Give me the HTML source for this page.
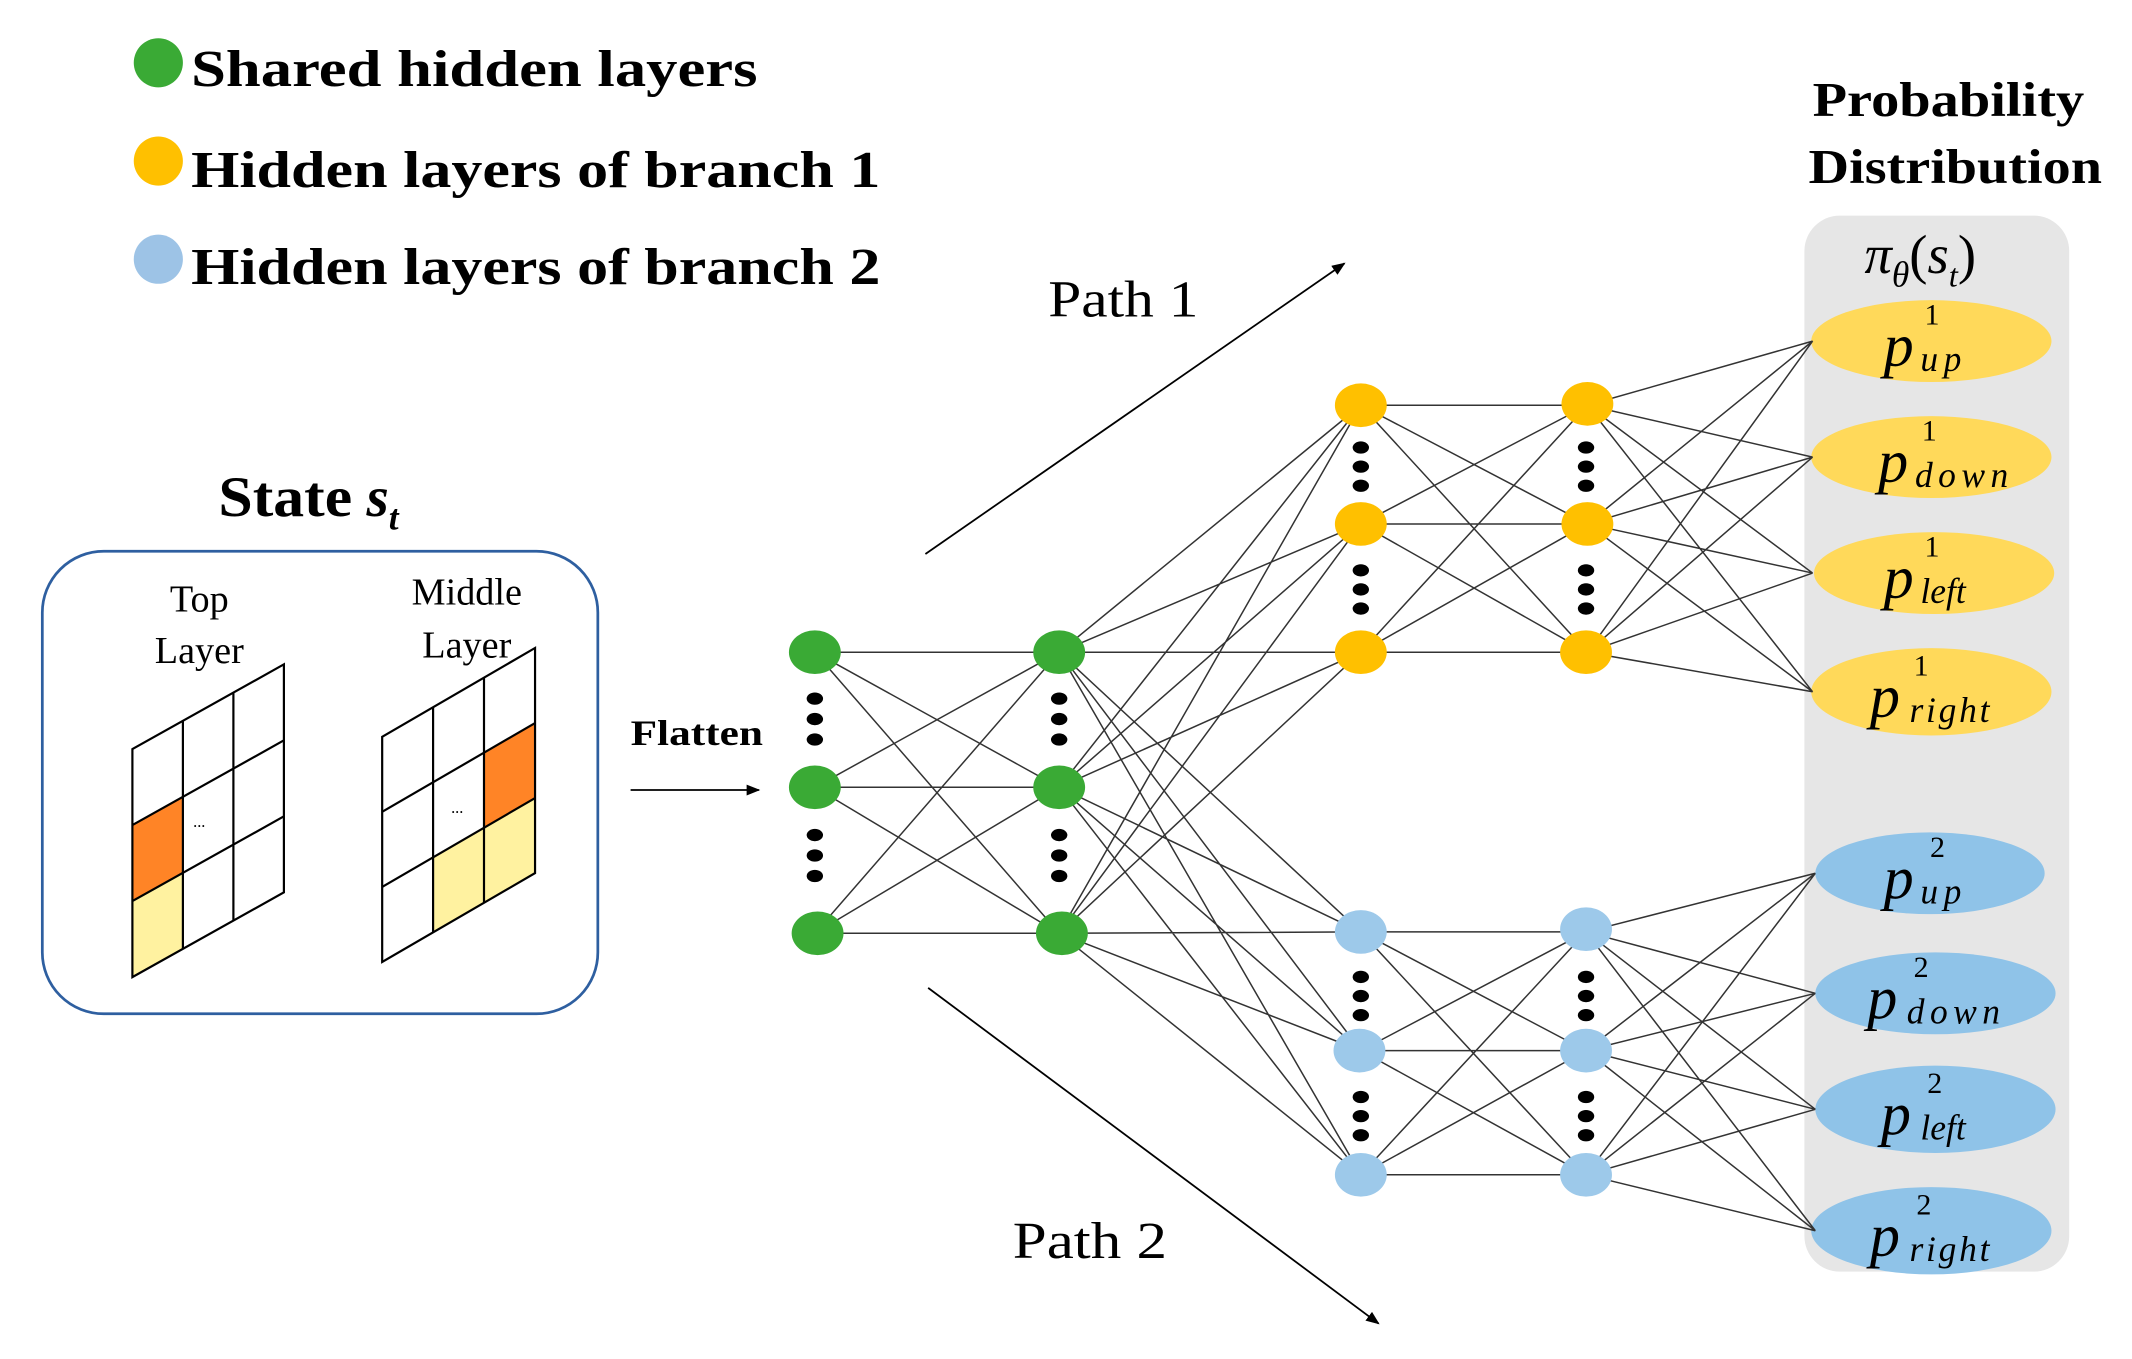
<!DOCTYPE html>
<html><head><meta charset="utf-8"><style>
html,body{margin:0;padding:0;background:#fff;}
svg{display:block;}
text{font-family:"Liberation Serif","Times New Roman",serif;}
</style></head><body>
<svg width="2132" height="1359" viewBox="0 0 1562 996" preserveAspectRatio="none" xmlns="http://www.w3.org/2000/svg" font-family="Liberation Serif, Times New Roman, serif">
<defs>
<marker id="ah" markerWidth="10" markerHeight="8" refX="9" refY="4" orient="auto" markerUnits="userSpaceOnUse">
<path d="M0,0 L10,4 L0,8 z" fill="#000"/></marker>
</defs>
<!-- legend -->
<circle cx="116" cy="46" r="18" fill="#3aaa35"/>
<circle cx="116" cy="118" r="18" fill="#ffc000"/>
<circle cx="116" cy="190" r="18" fill="#9dc3e6"/>
<text x="140" y="63" font-size="38" font-weight="bold" textLength="415" lengthAdjust="spacingAndGlyphs">Shared hidden layers</text>
<text x="140" y="137" font-size="38" font-weight="bold" textLength="505" lengthAdjust="spacingAndGlyphs">Hidden layers of branch 1</text>
<text x="140" y="208" font-size="38" font-weight="bold" textLength="505" lengthAdjust="spacingAndGlyphs">Hidden layers of branch 2</text>

<!-- prob panel -->
<text x="1328" y="85" font-size="36" font-weight="bold" textLength="199" lengthAdjust="spacingAndGlyphs">Probability</text>
<text x="1325" y="134" font-size="36" font-weight="bold" textLength="215" lengthAdjust="spacingAndGlyphs">Distribution</text>
<rect x="1322" y="158" width="194" height="774" rx="26" fill="#e6e6e6"/>
<text x="1366" y="200" font-size="40" font-style="italic">π<tspan font-size="26" dy="10">θ</tspan><tspan font-style="normal" dy="-10">(</tspan>s<tspan font-size="24" dy="10">t</tspan><tspan font-style="normal" dy="-10">)</tspan></text>

<g fill="#ffd95a">
<ellipse cx="1415" cy="250" rx="88" ry="30"/>
<ellipse cx="1415" cy="335" rx="88" ry="30"/>
<ellipse cx="1417" cy="420" rx="88" ry="30"/>
<ellipse cx="1415" cy="507" rx="88" ry="32"/>
</g>
<g fill="#8fc3e8">
<ellipse cx="1414" cy="640" rx="84" ry="30"/>
<ellipse cx="1418" cy="728" rx="88" ry="30"/>
<ellipse cx="1418" cy="813" rx="88" ry="32"/>
<ellipse cx="1415" cy="902" rx="88" ry="32"/>
</g>
<g font-size="44" font-style="italic">
<text x="1380" y="268">p<tspan font-size="22" font-style="normal" dx="8" dy="-30">1</tspan><tspan font-size="26" dx="-14" dy="34" letter-spacing="4">up</tspan></text>
<text x="1376" y="353">p<tspan font-size="22" font-style="normal" dx="10" dy="-30">1</tspan><tspan font-size="26" dx="-16" dy="34" letter-spacing="4">down</tspan></text>
<text x="1380" y="438">p<tspan font-size="22" font-style="normal" dx="8" dy="-30">1</tspan><tspan font-size="26" dx="-14" dy="34">left</tspan></text>
<text x="1370" y="525">p<tspan font-size="22" font-style="normal" dx="10" dy="-30">1</tspan><tspan font-size="26" dx="-14" dy="34" letter-spacing="2">right</tspan></text>
<text x="1380" y="658">p<tspan font-size="22" font-style="normal" dx="12" dy="-30">2</tspan><tspan font-size="26" dx="-18" dy="34" letter-spacing="4">up</tspan></text>
<text x="1368" y="746">p<tspan font-size="22" font-style="normal" dx="12" dy="-30">2</tspan><tspan font-size="26" dx="-16" dy="34" letter-spacing="4">down</tspan></text>
<text x="1378" y="831">p<tspan font-size="22" font-style="normal" dx="12" dy="-30">2</tspan><tspan font-size="26" dx="-16" dy="34">left</tspan></text>
<text x="1370" y="920">p<tspan font-size="22" font-style="normal" dx="12" dy="-30">2</tspan><tspan font-size="26" dx="-16" dy="34" letter-spacing="2">right</tspan></text>
</g>

<!-- connections -->
<g stroke="#333" stroke-width="1.1" fill="none">
<path d="M597 478L776 478M597 478L776 577M597 478L776 684M597 577L776 478M597 577L776 577M597 577L776 684M597 684L776 478M597 684L776 577M597 684L776 684"/>
<path d="M776 478L997 297M776 478L997 384M776 478L997 478M776 478L997 683M776 478L997 770M776 478L997 861
M776 577L997 297M776 577L997 384M776 577L997 478M776 577L997 683M776 577L997 770M776 577L997 861
M776 684L997 297M776 684L997 384M776 684L997 478M776 684L997 683M776 684L997 770M776 684L997 861"/>
<path d="M997 297L1163 297M997 297L1163 384M997 297L1163 478M997 384L1163 297M997 384L1163 384M997 384L1163 478M997 478L1163 297M997 478L1163 384M997 478L1163 478"/>
<path d="M997 683L1162 683M997 683L1162 770M997 683L1162 861M997 770L1162 683M997 770L1162 770M997 770L1162 861M997 861L1162 683M997 861L1162 770M997 861L1162 861"/>
<path d="M1163 297L1328 250M1163 297L1328 335M1163 297L1328 420M1163 297L1328 507
M1163 384L1328 250M1163 384L1328 335M1163 384L1328 420M1163 384L1328 507
M1163 478L1328 250M1163 478L1328 335M1163 478L1328 420M1163 478L1328 507"/>
<path d="M1162 683L1330 640M1162 683L1330 728M1162 683L1330 813M1162 683L1330 902
M1162 770L1330 640M1162 770L1330 728M1162 770L1330 813M1162 770L1330 902
M1162 861L1330 640M1162 861L1330 728M1162 861L1330 813M1162 861L1330 902"/>
</g>

<!-- nodes -->
<g fill="#3aaa35">
<ellipse cx="597" cy="478" rx="19" ry="16"/><ellipse cx="597" cy="577" rx="19" ry="16"/><ellipse cx="599" cy="684" rx="19" ry="16"/>
<ellipse cx="776" cy="478" rx="19" ry="16"/><ellipse cx="776" cy="577" rx="19" ry="16"/><ellipse cx="778" cy="684" rx="19" ry="16"/>
</g>
<g fill="#ffc000">
<ellipse cx="997" cy="297" rx="19" ry="16"/><ellipse cx="997" cy="384" rx="19" ry="16"/><ellipse cx="997" cy="478" rx="19" ry="16"/>
<ellipse cx="1163" cy="296" rx="19" ry="16"/><ellipse cx="1163" cy="384" rx="19" ry="16"/><ellipse cx="1162" cy="478" rx="19" ry="16"/>
</g>
<g fill="#9dc9ea">
<ellipse cx="997" cy="683" rx="19" ry="16"/><ellipse cx="996" cy="770" rx="19" ry="16"/><ellipse cx="997" cy="861" rx="19" ry="16"/>
<ellipse cx="1162" cy="681" rx="19" ry="16"/><ellipse cx="1162" cy="770" rx="19" ry="16"/><ellipse cx="1162" cy="861" rx="19" ry="16"/>
</g>
<!-- dots -->
<g fill="#000">
<ellipse cx="597" cy="512" rx="6" ry="4.5"/><ellipse cx="597" cy="527" rx="6" ry="4.5"/><ellipse cx="597" cy="542" rx="6" ry="4.5"/>
<ellipse cx="597" cy="612" rx="6" ry="4.5"/><ellipse cx="597" cy="627" rx="6" ry="4.5"/><ellipse cx="597" cy="642" rx="6" ry="4.5"/>
<ellipse cx="776" cy="512" rx="6" ry="4.5"/><ellipse cx="776" cy="527" rx="6" ry="4.5"/><ellipse cx="776" cy="542" rx="6" ry="4.5"/>
<ellipse cx="776" cy="612" rx="6" ry="4.5"/><ellipse cx="776" cy="627" rx="6" ry="4.5"/><ellipse cx="776" cy="642" rx="6" ry="4.5"/>
<ellipse cx="997" cy="328" rx="6" ry="4.5"/><ellipse cx="997" cy="342" rx="6" ry="4.5"/><ellipse cx="997" cy="356" rx="6" ry="4.5"/>
<ellipse cx="997" cy="418" rx="6" ry="4.5"/><ellipse cx="997" cy="432" rx="6" ry="4.5"/><ellipse cx="997" cy="446" rx="6" ry="4.5"/>
<ellipse cx="1162" cy="328" rx="6" ry="4.5"/><ellipse cx="1162" cy="342" rx="6" ry="4.5"/><ellipse cx="1162" cy="356" rx="6" ry="4.5"/>
<ellipse cx="1162" cy="418" rx="6" ry="4.5"/><ellipse cx="1162" cy="432" rx="6" ry="4.5"/><ellipse cx="1162" cy="446" rx="6" ry="4.5"/>
<ellipse cx="997" cy="716" rx="6" ry="4.5"/><ellipse cx="997" cy="730" rx="6" ry="4.5"/><ellipse cx="997" cy="744" rx="6" ry="4.5"/>
<ellipse cx="997" cy="804" rx="6" ry="4.5"/><ellipse cx="997" cy="818" rx="6" ry="4.5"/><ellipse cx="997" cy="832" rx="6" ry="4.5"/>
<ellipse cx="1162" cy="716" rx="6" ry="4.5"/><ellipse cx="1162" cy="730" rx="6" ry="4.5"/><ellipse cx="1162" cy="744" rx="6" ry="4.5"/>
<ellipse cx="1162" cy="804" rx="6" ry="4.5"/><ellipse cx="1162" cy="818" rx="6" ry="4.5"/><ellipse cx="1162" cy="832" rx="6" ry="4.5"/>
</g>

<!-- paths -->
<text x="768" y="232" font-size="38" textLength="110" lengthAdjust="spacingAndGlyphs">Path 1</text>
<line x1="678" y1="406" x2="985" y2="193" stroke="#000" stroke-width="1.3" marker-end="url(#ah)"/>
<text x="742" y="922" font-size="38" textLength="113" lengthAdjust="spacingAndGlyphs">Path 2</text>
<line x1="680" y1="724" x2="1010" y2="970" stroke="#000" stroke-width="1.3" marker-end="url(#ah)"/>

<!-- state -->
<text x="160" y="378" font-size="42" font-weight="bold"><tspan textLength="98" lengthAdjust="spacingAndGlyphs">State</tspan> <tspan font-style="italic">s</tspan><tspan font-style="italic" font-size="26" dy="10">t</tspan></text>
<rect x="31" y="404" width="407" height="339" rx="45" fill="none" stroke="#2e5fa0" stroke-width="2"/>
<text x="146" y="448" font-size="28" text-anchor="middle">Top</text>
<text x="146" y="486" font-size="28" text-anchor="middle">Layer</text>
<text x="342" y="443" font-size="28" text-anchor="middle">Middle</text>
<text x="342" y="482" font-size="28" text-anchor="middle">Layer</text>
<text x="462" y="546" font-size="26" font-weight="bold" textLength="97" lengthAdjust="spacingAndGlyphs">Flatten</text>
<line x1="462" y1="579" x2="556" y2="579" stroke="#000" stroke-width="1.3" marker-end="url(#ah)"/>

<!-- top grid -->
<polygon points="97,604.7 134,584 134,639.7 97,660.4" fill="#ff8426"/>
<polygon points="97,660.4 134,639.7 134,695.4 97,716.1" fill="#fff2a0"/>
<g stroke="#000" stroke-width="1.6" fill="none">
<polygon points="97,549 208,486.9 208,654 97,716.1"/>
<line x1="134" y1="528.3" x2="134" y2="695.4"/><line x1="171" y1="507.6" x2="171" y2="674.7"/>
<line x1="97" y1="604.7" x2="208" y2="542.6"/><line x1="97" y1="660.4" x2="208" y2="598.3"/>
</g>
<text x="146" y="606" font-size="12" text-anchor="middle">...</text>
<!-- middle grid -->
<polygon points="354.6,551.6 392,529.9 392,584.9 354.6,606.6" fill="#ff8426"/>
<polygon points="317.3,628.3 392,584.9 392,639.9 317.3,683.3" fill="#fff2a0"/>
<g stroke="#000" stroke-width="1.6" fill="none">
<polygon points="280,540 392,474.9 392,639.9 280,705"/>
<line x1="317.3" y1="518.3" x2="317.3" y2="683.3"/><line x1="354.6" y1="496.6" x2="354.6" y2="661.6"/>
<line x1="280" y1="595" x2="392" y2="529.9"/><line x1="280" y1="650" x2="392" y2="584.9"/>
</g>
<text x="335" y="596" font-size="12" text-anchor="middle">...</text>
</svg>
</body></html>
